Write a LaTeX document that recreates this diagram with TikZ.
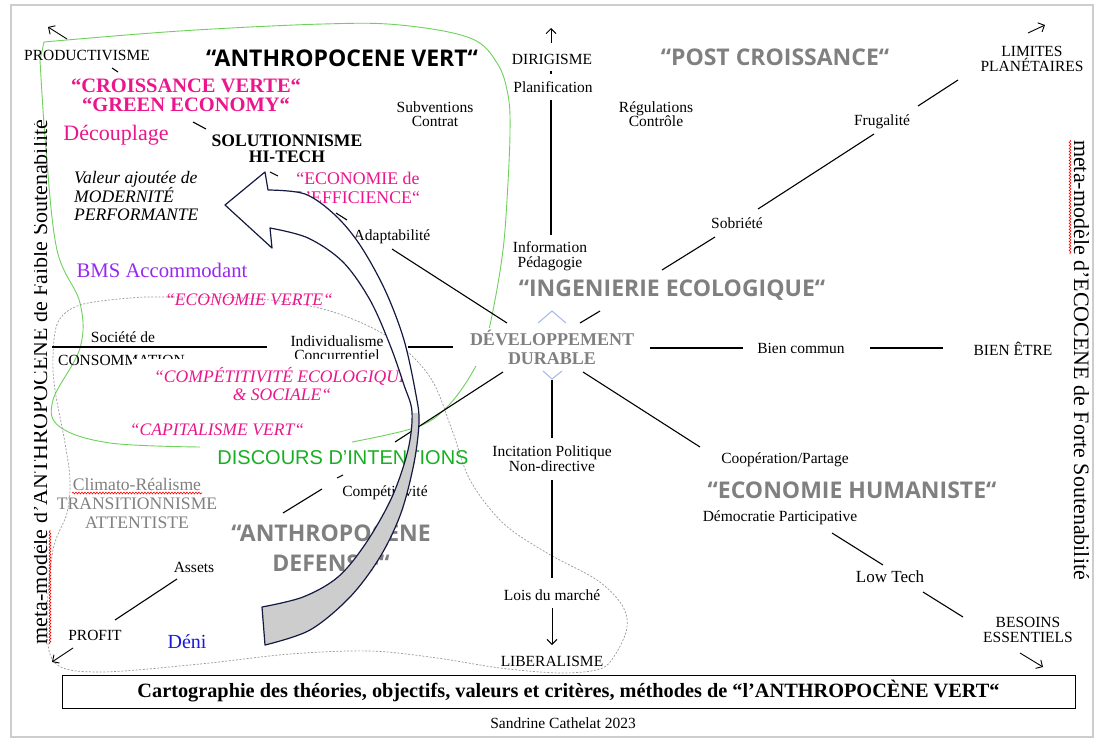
\documentclass[tikz,border=0pt]{standalone}
\usepackage{fontspec}
\setmainfont{Liberation Serif}
\newfontfamily\headfont{Open Sans}
\newfontfamily\plainsans{Liberation Sans}
\usetikzlibrary{arrows.meta,decorations.pathmorphing}

\definecolor{vpink}{RGB}{236,22,140}
\definecolor{vpurple}{RGB}{150,40,240}
\definecolor{vgreen}{RGB}{25,175,35}
\definecolor{lgreen}{RGB}{110,210,90}
\definecolor{hgray}{RGB}{128,128,128}
\definecolor{vblue}{RGB}{25,25,215}
\definecolor{navy}{RGB}{20,25,65}
\definecolor{ribbon}{RGB}{205,205,205}
\definecolor{chev}{RGB}{160,185,230}
\definecolor{framegray}{RGB}{205,205,205}

\tikzset{
  lbl/.style={font=\fontsize{15.5}{14.5}\selectfont, align=center, inner sep=1pt},
  head/.style={font=\headfont\bfseries\fontsize{23}{30}\selectfont, text=hgray, align=center, inner sep=1pt},
  pinkbold/.style={font=\bfseries\fontsize{20.5}{19}\selectfont, text=vpink, align=center, inner sep=1pt},
  pinkit/.style={font=\itshape\fontsize{17.6}{18}\selectfont, text=vpink, align=center, inner sep=1pt},
  grayserif/.style={font=\fontsize{17.6}{19}\selectfont, text=hgray, align=center, inner sep=1pt},
  axisline/.style={line width=1.1pt, black},
  tipline/.style={line width=0.9pt, -{Straight Barb[length=5pt,width=10pt]}},
  spell/.style={red, line width=0.6pt, decorate, decoration={snake, amplitude=0.9pt, segment length=3pt}},
  chevron/.style={chev, line width=1pt},
  zone/.style={lgreen, line width=0.9pt},
  dashzone/.style={gray!80, line width=0.7pt, dash pattern=on 2pt off 1.6pt}
}

% the curved ribbon arrow outline
\newcommand\ribbonpath[1]{%
  \path[#1] (265,172)
    -- plot[smooth, tension=0.55] coordinates {(268,190) (305,194) (335,215) (360,245) (385,290) (404,340) (416,395) (419,422) (414,463) (401,513) (380,557) (350,597) (310,630) (265,645)}
    -- (262,607)
    -- plot[smooth, tension=0.55] coordinates {(262,607) (303,597) (338,577) (366,543) (392,497) (408,450) (412,412) (404,385) (390,345) (370,300) (343,262) (308,238) (270,228)}
    -- (272,248) -- (225,205) -- cycle;}

\begin{document}
\begin{tikzpicture}[x=1pt,y=-1pt]
\useasboundingbox (0,0) rectangle (1097,744);
\fill[white] (0,0) rectangle (1097,744);
\draw[framegray, line width=1.5pt] (11,5) rectangle (1093,737);

% zone of the green anthropocene
\draw[zone] plot[smooth, tension=0.6] coordinates {(200,447) (110,443) (60,427) (53,400) (80,348) (80,303) (57,250) (46,150) (40,60)}
  -- plot[smooth, tension=0.6] coordinates {(44,42) (180,31) (323,24) (400,25) (470,38) (497,63) (508,95) (510,133) (507,200) (503,250) (495,300) (486,340) (472,373) (447,407) (417,427) (352,442)};

% zone of the defensive anthropocene
\draw[dashzone] plot[smooth cycle, tension=0.55] coordinates {(167,297) (260,299) (330,311) (390,338) (430,377) (452,430) (470,480) (503,523) (547,553) (597,580) (622,605) (627,628) (615,655) (600,669) (560,673) (500,668) (437,658) (370,651) (290,654) (200,664) (100,672) (55,663) (47,620) (53,550) (67,513) (70,480) (65,443) (55,390) (53,357) (58,322) (80,305) (130,298)};

% segment end points of the axes
\coordinate (ul1a) at (112,68);  \coordinate (ul1b) at (118,72);
\coordinate (ul2a) at (193,122); \coordinate (ul2b) at (206,129);
\coordinate (ul3a) at (270,172); \coordinate (ul3b) at (278,176);
\coordinate (ul4a) at (336,213); \coordinate (ul4b) at (347,220);
\coordinate (ul5a) at (392,249); \coordinate (ul5b) at (507,323);
\coordinate (ur1a) at (580,323); \coordinate (ur1b) at (600,311);
\coordinate (ur2a) at (662,270); \coordinate (ur2b) at (715,237);
\coordinate (ur3a) at (758,209); \coordinate (ur3b) at (874,134);
\coordinate (ur4a) at (918,106); \coordinate (ur4b) at (958,80);
\coordinate (ur5a) at (1028,33); \coordinate (ur5b) at (1045,25);
\coordinate (ul6a) at (67,39);   \coordinate (ul6b) at (48,27);
\coordinate (up1a) at (551,100); \coordinate (up1b) at (551,235);
\coordinate (up2a) at (551,71);  \coordinate (up2b) at (551,74);
\coordinate (up3a) at (551,43);  \coordinate (up3b) at (551,28);
\coordinate (lf1a) at (52,347);  \coordinate (lf1b) at (267,347);
\coordinate (lf2a) at (408,347); \coordinate (lf2b) at (453,347);
\coordinate (rt1a) at (650,348); \coordinate (rt1b) at (743,348);
\coordinate (rt2a) at (870,348); \coordinate (rt2b) at (943,348);
\coordinate (ll1a) at (503,372); \coordinate (ll1b) at (395,442);
\coordinate (ll2a) at (343,475); \coordinate (ll2b) at (337,478);
\coordinate (ll3a) at (322,489); \coordinate (ll3b) at (283,513);
\coordinate (ll4a) at (177,579); \coordinate (ll4b) at (115,620);
\coordinate (ll5a) at (73,648);  \coordinate (ll5b) at (52,662);
\coordinate (dn1a) at (552,380); \coordinate (dn1b) at (552,438);
\coordinate (dn2a) at (552,480); \coordinate (dn2b) at (552,578);
\coordinate (dn3a) at (552,608); \coordinate (dn3b) at (552,645);
\coordinate (lr1a) at (583,372); \coordinate (lr1b) at (700,447);
\coordinate (lr2a) at (832,533); \coordinate (lr2b) at (883,565);
\coordinate (lr3a) at (923,592); \coordinate (lr3b) at (963,617);
\coordinate (lr4a) at (1020,653);\coordinate (lr4b) at (1043,667);

\foreach \s in {ul1,ul2,ul3,ul4,ul5,ur1,ur2,ur3,ur4,up1,up2,lf1,lf2,rt1,rt2,ll1,ll2,ll3,ll4,dn1,dn2,lr1,lr2,lr3}
  \draw[axisline] (\s a) -- (\s b);
\foreach \s in {ur5,ul6,up3,ll5,dn3,lr4}
  \draw[tipline] (\s a) -- (\s b);

% chevrons around the centre
\draw[chevron] (538,323) -- (552,311) -- (566,323);
\draw[chevron] (543,371) -- (552,379) -- (562,371);

% upper left quarter
\node[lbl] (prod) at (87,55) {PRODUCTIVISME};
\node[font=\headfont\bfseries\fontsize{23}{30}\selectfont, inner sep=1pt] (avert) at (342,58) {“ANTHROPOCENE VERT“};
\node[pinkbold] (cverte) at (186,95) {“CROISSANCE VERTE“\\“GREEN ECONOMY“};
\node[font=\fontsize{22}{24}\selectfont, text=vpink, inner sep=1pt] (decoup) at (116,135) {Découplage};
\node[font=\bfseries\fontsize{17.6}{16}\selectfont, align=center, inner sep=1pt] (solut) at (287,149) {SOLUTIONNISME\\HI-TECH};
\node[font=\itshape\fontsize{17.6}{18}\selectfont, align=left, anchor=west, inner sep=1pt] (valeur) at (73,196) {Valeur ajoutée de\\MODERNITÉ\\PERFORMANTE};
\node[font=\fontsize{17.8}{19}\selectfont, text=vpink, align=center, inner sep=1pt] (effic) at (358,188) {“ECONOMIE de\\L’EFFICIENCE“};
\node[lbl] (subv) at (435,114) {Subventions\\Contrat};
\node[lbl] (adapt) at (392,237) {Adaptabilité};
\node[font=\fontsize{20.7}{22}\selectfont, text=vpurple, inner sep=1pt] (bms) at (162,270) {BMS Accommodant};

% upper right quarter
\node[lbl] (dirig) at (552,59) {DIRIGISME};
\node[lbl] (planif) at (553,87) {Planification};
\node[head] (postc) at (775,57) {“POST CROISSANCE“};
\node[lbl] (regul) at (656,114) {Régulations\\Contrôle};
\node[lbl, font=\fontsize{15.5}{15}\selectfont] (limit) at (1032,59) {LIMITES\\PLANÉTAIRES};
\node[lbl] (frug) at (882,122) {Frugalité};
\node[lbl] (sobr) at (737,223) {Sobriété};
\node[lbl] (inform) at (550,256) {Information\\Pédagogie};
\node[head] (ingen) at (672,290) {“INGENIERIE ECOLOGIQUE“};

% centre
\node[font=\bfseries\fontsize{18}{19}\selectfont, text=hgray, align=center, fill=white, inner sep=2pt] (devdur) at (552,347) {DÉVELOPPEMENT\\DURABLE};
\node[lbl] (bienc) at (801,348) {Bien commun};
\node[lbl] (bienet) at (1013,349) {BIEN ÊTRE};

% lower left quarter
\node[pinkit] (ecoverte) at (249,300) {“ECONOMIE VERTE“};
\node[lbl] (societe) at (123,337) {Société de};
\node[lbl, anchor=west] (consom) at (57,360) {CONSOMMATION};
\node[lbl, font=\fontsize{15.5}{13.5}\selectfont] (indiv) at (337,348) {Individualisme\\Concurrentiel};
\fill[white] (132,359) rectangle (412,404);
\node[pinkit] (compeco) at (282,384) {“COMPÉTITIVITÉ ECOLOGIQUE\\\& SOCIALE“};
\node[pinkit] (capit) at (217,430) {“CAPITALISME VERT“};
\node[font=\plainsans\fontsize{20}{22}\selectfont, text=vgreen, inner sep=1pt] (discours) at (343,458) {DISCOURS D’INTENTIONS};
\node[grayserif] (climato) at (137,484) {Climato-Réalisme};
\draw[spell] (72,493) -- (202,493);
\node[grayserif] (transit) at (137,513) {TRANSITIONNISME\\ATTENTISTE};
\node[lbl] (competit) at (385,493) {Compétitivité};
\node[head] (adefens) at (331,548) {“ANTHROPOCENE\\DEFENSIF“};
\node[lbl] (assets) at (194,567) {Assets};
\node[lbl] (profit) at (95,635) {PROFIT};
\node[font=\fontsize{20}{22}\selectfont, text=vblue, inner sep=1pt] (deni) at (187,642) {Déni};

% lower right quarter
\node[lbl, font=\fontsize{15.5}{15}\selectfont] (incit) at (552,459) {Incitation Politique\\Non-directive};
\node[lbl] (loism) at (552,595) {Lois du marché};
\node[lbl] (liber) at (552,661) {LIBERALISME};
\node[lbl] (coop) at (785,460) {Coopération/Partage};
\node[head] (ecohum) at (852,490) {“ECONOMIE HUMANISTE“};
\node[lbl] (democ) at (780,518) {Démocratie Participative};
\node[font=\fontsize{17}{18}\selectfont, inner sep=1pt] (lowt) at (890,577) {Low Tech};
\node[lbl, font=\fontsize{15.5}{15}\selectfont] (besoins) at (1028,630) {BESOINS\\ESSENTIELS};

% curved ribbon arrow: pale upper half, grey lower half
\ribbonpath{fill=white}
\begin{scope}
  \clip (0,413) rectangle (1097,744);
  \ribbonpath{fill=ribbon}
\end{scope}
\ribbonpath{draw=navy, line width=1.2pt, line join=round}

% caption
\node[draw, line width=1pt, minimum width=1013, minimum height=33, inner sep=0pt,
      font=\bfseries\fontsize{20.3}{22}\selectfont] (titre) at (568.5,691.5)
  {Cartographie des théories, objectifs, valeurs et critères, méthodes de “l’ANTHROPOCÈNE VERT“};
\node[lbl] (auteur) at (563,723) {Sandrine Cathelat 2023};

% side titles of the two meta-models
\begin{scope}
  \clip (34,90) rectangle (75,700);
  \node[rotate=90, anchor=base, font=\fontsize{22}{24}\selectfont, inner sep=0pt] (metaleft) at (47,382)
    {meta-modèle d’ANTHROPOCENE de Faible Soutenabilité};
\end{scope}
\draw[spell] (50,644) -- (50,530);
\begin{scope}
  \clip (1040,90) rectangle (1088,700);
  \node[rotate=-90, anchor=base, font=\fontsize{22}{24}\selectfont, inner sep=0pt] (metaright) at (1074,360)
    {meta-modèle d’ÉCOCÈNE de Forte Soutenabilité};
\end{scope}
\draw[spell] (1070,140) -- (1070,254);
\end{tikzpicture}
\end{document}
